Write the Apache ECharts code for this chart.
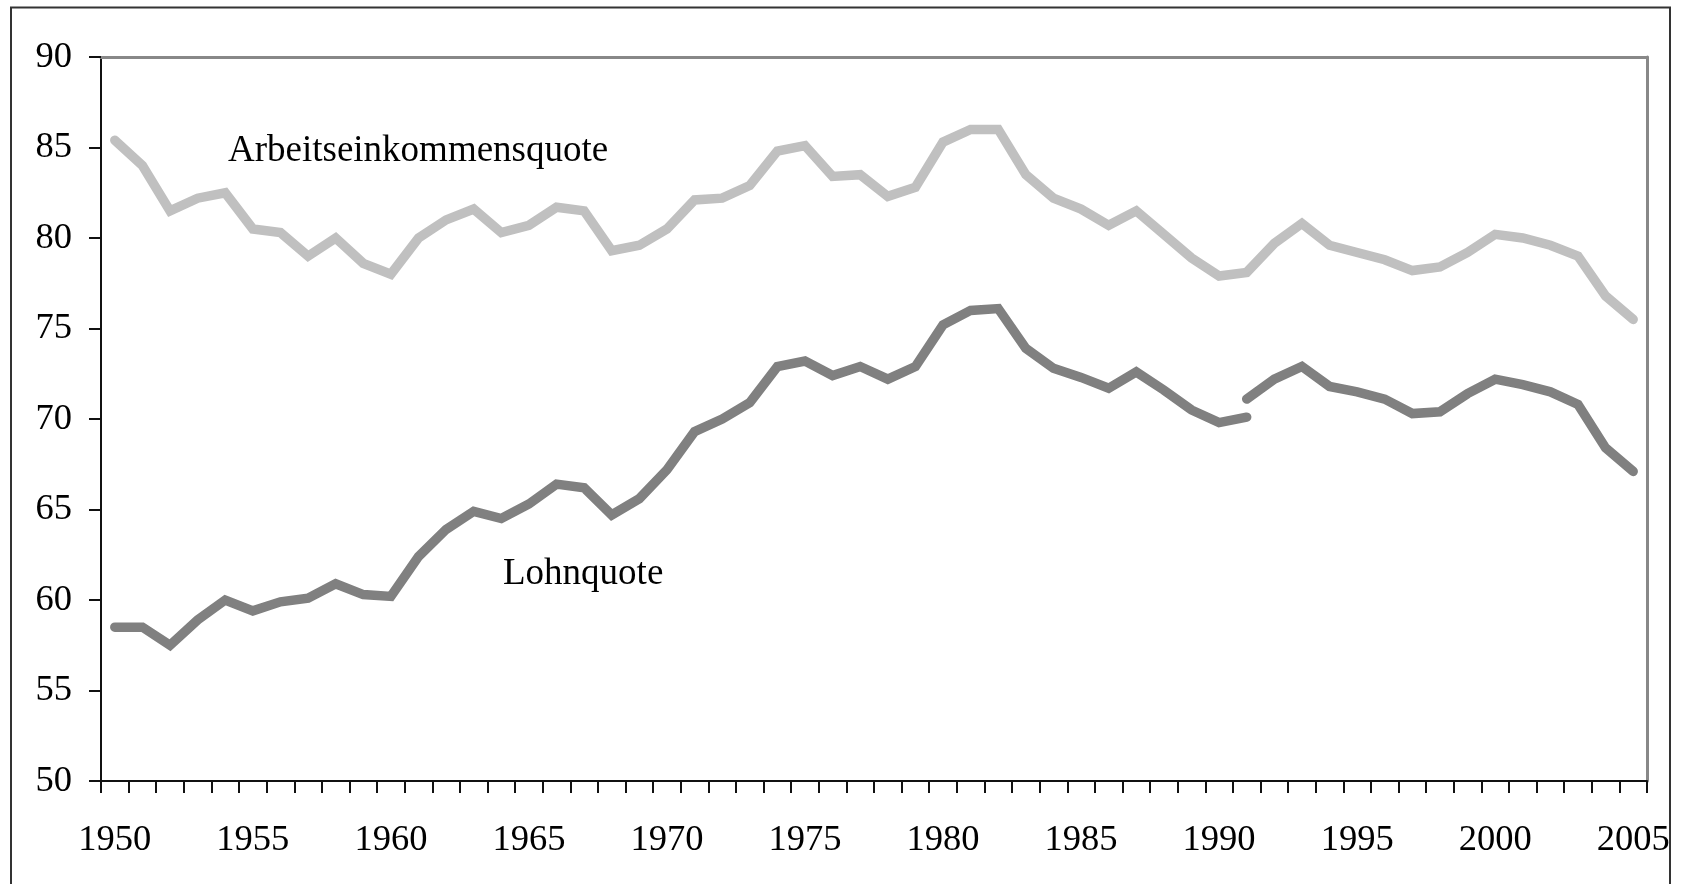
<!DOCTYPE html>
<html>
<head>
<meta charset="utf-8">
<script src="https://cdn.jsdelivr.net/npm/echarts@6/dist/echarts.min.js"></script>
<style>
html,body{margin:0;padding:0;background:#fff;}
#chart{width:1683px;height:884px;}
</style>
</head>
<body>
<div id="chart"></div>
<script>
const years = ['1950','1951','1952','1953','1954','1955','1956','1957','1958','1959',
  '1960','1961','1962','1963','1964','1965','1966','1967','1968','1969',
  '1970','1971','1972','1973','1974','1975','1976','1977','1978','1979',
  '1980','1981','1982','1983','1984','1985','1986','1987','1988','1989',
  '1990','1991','1992','1993','1994','1995','1996','1997','1998','1999',
  '2000','2001','2002','2003','2004','2005'];

const arbeitseinkommensquote = [85.4,84.0,81.5,82.2,82.5,80.5,80.3,79.0,80.0,78.6,
  78.0,80.0,81.0,81.6,80.3,80.7,81.7,81.5,79.3,79.6,
  80.5,82.1,82.2,82.9,84.8,85.1,83.4,83.5,82.3,82.8,
  85.3,86.0,86.0,83.5,82.2,81.6,80.7,81.5,80.2,78.9,
  77.9,78.1,79.7,80.8,79.6,79.2,78.8,78.2,78.4,79.2,
  80.2,80.0,79.6,79.0,76.8,75.5];

// Lohnquote 1950-1991 (first segment)
const lohnquoteWest = [58.5,58.5,57.5,58.9,60.0,59.4,59.9,60.1,60.9,60.3,
  60.2,62.4,63.9,64.9,64.5,65.3,66.4,66.2,64.7,65.6,
  67.2,69.3,70.0,70.9,72.9,73.2,72.4,72.9,72.2,72.9,
  75.2,76.0,76.1,73.9,72.8,72.3,71.7,72.6,71.6,70.5,
  69.8,70.1];
// Lohnquote 1991-2005 (second segment)
const lohnquoteGesamt = [71.1,72.2,72.9,71.8,71.5,71.1,70.3,70.4,71.4,72.2,71.9,71.5,70.8,68.4,67.1];

const yTicks = {min: 50, max: 90, interval: 5};
const labelArbeit = 'Arbeitseinkommensquote';
const labelLohn = 'Lohnquote';

const font = "'Liberation Serif','Times New Roman',serif";

const seg2 = new Array(years.length - lohnquoteGesamt.length).fill(null).concat(lohnquoteGesamt);

const chart = echarts.init(document.getElementById('chart'));
chart.setOption({
  animation: false,
  backgroundColor: '#fff',
  grid: {left: 101, right: 36, top: 57, bottom: 103, containLabel: false},
  xAxis: [{
    type: 'category',
    data: years,
    boundaryGap: true,
    axisLine: {lineStyle: {color: '#111', width: 2}},
    axisTick: {show: true, interval: 0, length: 12, lineStyle: {color: '#111', width: 2}},
    axisLabel: {interval: 4, margin: 41, color: '#000', fontFamily: font, fontSize: 36.5},
    splitLine: {show: false}
  }, {
    type: 'category',
    data: years,
    position: 'top',
    axisLine: {lineStyle: {color: '#888', width: 3}},
    axisTick: {show: false},
    axisLabel: {show: false}
  }],
  yAxis: [{
    type: 'value',
    min: yTicks.min, max: yTicks.max, interval: yTicks.interval,
    axisLine: {show: true, lineStyle: {color: '#111', width: 2}},
    axisTick: {show: true, length: 12, lineStyle: {color: '#111', width: 2}},
    axisLabel: {margin: 29, color: '#000', fontFamily: font, fontSize: 36.5},
    splitLine: {show: false}
  }, {
    type: 'value',
    position: 'right',
    min: yTicks.min, max: yTicks.max, interval: yTicks.interval,
    axisLine: {show: true, lineStyle: {color: '#888', width: 3}},
    axisTick: {show: false},
    axisLabel: {show: false},
    splitLine: {show: false}
  }],
  series: [{
    name: labelArbeit,
    type: 'line',
    data: arbeitseinkommensquote,
    showSymbol: false, symbol: 'none',
    lineStyle: {color: '#c0c0c0', width: 9.5, cap: 'round', join: 'miter'},
    z: 3
  }, {
    name: labelLohn,
    type: 'line',
    data: lohnquoteWest,
    showSymbol: false, symbol: 'none',
    lineStyle: {color: '#808080', width: 9.5, cap: 'round', join: 'miter'},
    z: 3
  }, {
    name: labelLohn + ' (ab 1991)',
    type: 'line',
    data: seg2,
    connectNulls: false,
    showSymbol: false, symbol: 'none',
    lineStyle: {color: '#808080', width: 9.5, cap: 'round', join: 'miter'},
    z: 3
  }],
  graphic: [{
    type: 'rect',
    shape: {x: 11, y: 7.5, width: 1659, height: 1000},
    style: {fill: 'none', stroke: '#333', lineWidth: 2},
    silent: true
  }, {
    type: 'text',
    left: 228, top: 133,
    style: {text: labelArbeit, fill: '#000', font: "37px " + font}
  }, {
    type: 'text',
    left: 503, top: 556,
    style: {text: labelLohn, fill: '#000', font: "37px " + font}
  }]
});
</script>
</body>
</html>
